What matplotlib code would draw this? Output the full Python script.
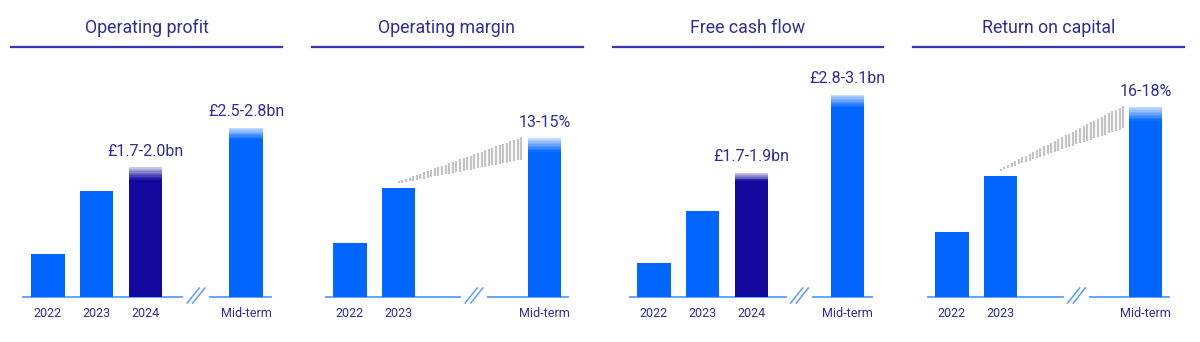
import matplotlib
matplotlib.use("Agg")
import matplotlib.pyplot as plt
from matplotlib.lines import Line2D
from matplotlib.collections import LineCollection
from matplotlib.colors import to_rgb
import numpy as np

# ---- data ----
titles = ["Operating profit", "Operating margin", "Free cash flow", "Return on capital"]
year_labels = [["2022", "2023", "2024"], ["2022", "2023"], ["2022", "2023", "2024"], ["2022", "2023"]]

op_profit_hist = [0.66, 1.63]          # £bn
op_profit_2024 = (1.7, 2.0)            # guidance range
op_profit_mid = (2.5, 2.8)
op_margin_hist = [5.1, 10.3]           # %
op_margin_mid = (13, 15)
fcf_hist = [0.52, 1.31]                # £bn
fcf_2024 = (1.7, 1.9)
fcf_mid = (2.8, 3.1)
roc_hist = [6.2, 11.5]                 # %
roc_mid = (16, 18)

guide_2024 = [op_profit_2024, None, fcf_2024, None]
hist_values = [op_profit_hist, op_margin_hist, fcf_hist, roc_hist]
mid_values = [op_profit_mid, op_margin_mid, fcf_mid, roc_mid]
guide_labels = ["£1.7-2.0bn", None, "£1.7-1.9bn", None]
mid_labels = ["£2.5-2.8bn", "13-15%", "£2.8-3.1bn", "16-18%"]
show_wedge = [False, True, False, True]

# ---- style ----
W, H = 1200, 342
BLUE = "#0066ff"
NAVY = "#12089e"
INK = "#2f2ca0"
RULE = "#3935b0"
BASE = "#5a9cff"
GREY = "#c4c4c4"
NUM_FONT = ["Roboto", "DejaVu Sans"]
TXT_FONT = ["Roboto", "DejaVu Sans"]

# panel geometry in pixels (x from left, y from top)
panels = [
    dict(rule=(11, 282), tx=147, main=(23, 182), first=48, mid=(210, 271), mc=246, ymax=(3.65, 3.92)),
    dict(rule=(312, 583), tx=447, main=(326, 460), first=350, mid=(488, 568), mc=544.5, ymax=(22.4, 22.4)),
    dict(rule=(613, 883), tx=748, main=(630, 786), first=654, mid=(813, 872), mc=847.5, ymax=(3.63, 3.63)),
    dict(rule=(913, 1184), tx=1049, main=(928, 1063), first=952, mid=(1090, 1169), mc=1145.5, ymax=(22.45, 22.45)),
]
SPACING = 48.8
BAR_W = 0.68
BASE_Y, TOP_Y = 297, 60


def rect(x0, x1):
    return [x0 / W, 1 - BASE_Y / H, (x1 - x0) / W, (BASE_Y - TOP_Y) / H]


def fade_color(c, t):
    r = np.array(to_rgb(c))
    return tuple(r + (1 - r) * t)


def range_bar(ax, x, lo, hi, color):
    ax.bar(x, lo, width=BAR_W, color=color, linewidth=0)
    n = 14
    edges = np.linspace(lo, hi, n + 1)
    for i in range(n):
        t = (i + 0.5) / n
        k = 0 if t < 0.35 else (t - 0.35) / 0.65 * 0.8
        ax.bar(x, edges[i + 1] - edges[i], bottom=edges[i], width=BAR_W,
               color=fade_color(color, k), linewidth=0)


def style(ax, xlim, ymax, ticks, labels):
    ax.set_xlim(*xlim)
    ax.set_ylim(0, ymax)
    for s in ax.spines.values():
        s.set_visible(False)
    ax.set_yticks([])
    ax.set_xticks(ticks)
    ax.set_xticklabels(labels, fontsize=9, color=INK, family=TXT_FONT)
    ax.tick_params(axis="x", length=0, pad=7.5)
    ax.axhline(0, color=BASE, lw=1.3, clip_on=False, zorder=0)
    ax.patch.set_alpha(0)


fig = plt.figure(figsize=(W / 100, H / 100), dpi=100)

for p, title, years, hist, g24, mid, glab, mlab, wedge in zip(
        panels, titles, year_labels, hist_values, guide_2024, mid_values,
        guide_labels, mid_labels, show_wedge):
    # title and rule
    fig.text(p["tx"] / W, 1 - 28 / H, title, ha="center", va="center",
             fontsize=12.8, color=INK, family=TXT_FONT)
    fig.add_artist(Line2D([p["rule"][0] / W, p["rule"][1] / W], [1 - 47 / H] * 2,
                          color=RULE, lw=1.6))

    # historic years
    ax = fig.add_axes(rect(*p["main"]))
    x0, x1 = p["main"]
    style(ax, ((x0 - p["first"]) / SPACING, (x1 - p["first"]) / SPACING),
          p["ymax"][0], range(len(years)), years)
    ax.bar(range(len(hist)), hist, width=BAR_W, color=BLUE, linewidth=0)
    if g24 is not None:
        range_bar(ax, 2, g24[0], g24[1], NAVY)
        ax.annotate(glab, (2, g24[1]), xytext=(0, 11.5), textcoords="offset points",
                    ha="center", va="center", fontsize=11.5, color=INK, family=NUM_FONT)

    # mid-term target, on its own scale after the break
    axm = fig.add_axes(rect(*p["mid"]))
    m0, m1 = p["mid"]
    style(axm, ((m0 - p["mc"]) / SPACING, (m1 - p["mc"]) / SPACING),
          p["ymax"][1], [0], ["Mid-term"])
    range_bar(axm, 0, mid[0], mid[1], BLUE)
    axm.annotate(mlab, (0, mid[1]), xytext=(0, 11.5), textcoords="offset points",
                 ha="center", va="center", fontsize=11.5, color=INK, family=NUM_FONT)

    # axis break marks
    gx = (x1 + m0) / 2
    for dx in (-2.8, 2.8):
        fig.add_artist(Line2D([(gx + dx - 6) / W, (gx + dx + 6) / W],
                              [1 - 303 / H, 1 - 288 / H], color=BASE, lw=1.1))

    # striped wedge from last actual to the mid-term range
    if wedge:
        ax_pt = ax.transData.transform((len(hist) - 1, hist[-1]))
        lo_pt = axm.transData.transform((-BAR_W / 2, mid[0]))
        hi_pt = axm.transData.transform((-BAR_W / 2, mid[1]))
        sx, sy = ax_pt[0] - 3, ax_pt[1] + 4
        ex = lo_pt[0] - 5
        xs = np.arange(sx + 3, ex, 3.6)
        t = (xs - sx) / (ex - sx)
        ylo = sy + (lo_pt[1] - sy) * t
        yhi = sy + (hi_pt[1] - sy) * t + 1.5
        segs = [[(x / W, a / H), (x / W, b / H)] for x, a, b in zip(xs, ylo, yhi)]
        fig.add_artist(LineCollection(segs, colors=GREY, linewidths=1.6,
                                      transform=fig.transFigure))

fig.savefig("out.png", dpi=100, facecolor="white")
